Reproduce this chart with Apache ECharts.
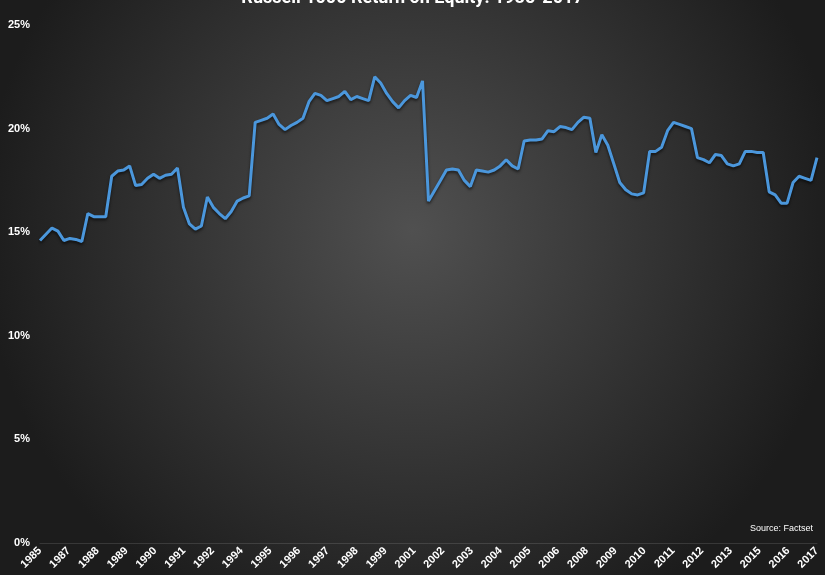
<!DOCTYPE html>
<html>
<head>
<meta charset="utf-8">
<script src="https://cdn.jsdelivr.net/npm/echarts@6/dist/echarts.min.js"></script>
<style>
html,body{margin:0;padding:0;background:#2a2a2a;}
#main{width:825px;height:575px;}
</style>
</head>
<body>
<div id="main"></div>
<script>
// tick labels under the x axis
var yearLabels = ['1985','1987','1988','1989','1990','1991','1992','1994','1995','1996','1997','1998','1999',
    '2001','2002','2003','2004','2005','2006','2008','2009','2010','2011','2012','2013','2015','2016','2017'];

// return on equity, %, quarterly
var roe = [
    14.6, 14.9, 15.2, 15.05, 14.6, 14.7, 14.65, 14.55, 15.9, 15.75,
    15.75, 15.75, 17.7, 17.95, 18.0, 18.2, 17.25, 17.3, 17.6, 17.8,
    17.6, 17.75, 17.8, 18.1, 16.2, 15.4, 15.15, 15.3, 16.7, 16.2,
    15.9, 15.65, 16.0, 16.5, 16.65, 16.75, 20.3, 20.4, 20.5, 20.7,
    20.2, 19.95, 20.15, 20.3, 20.5, 21.3, 21.7, 21.6, 21.35, 21.45,
    21.55, 21.8, 21.4, 21.55, 21.45, 21.35, 22.5, 22.2, 21.7, 21.3,
    21.0, 21.35, 21.6, 21.5, 22.3, 16.5, 17.0, 17.5, 18.0, 18.05,
    18.0, 17.5, 17.2, 18.0, 17.95, 17.9, 18.0, 18.2, 18.5, 18.2,
    18.05, 19.4, 19.45, 19.45, 19.5, 19.9, 19.85, 20.1, 20.05, 19.95,
    20.3, 20.55, 20.5, 18.85, 19.7, 19.2, 18.3, 17.4, 17.05, 16.85,
    16.8, 16.9, 18.9, 18.9, 19.1, 19.9, 20.3, 20.2, 20.1, 20.0,
    18.6, 18.5, 18.35, 18.75, 18.7, 18.3, 18.2, 18.3, 18.9, 18.9,
    18.85, 18.85, 16.95, 16.8, 16.4, 16.4, 17.4, 17.7, 17.6, 17.5,
    18.6
];

var cats = roe.map(function (v, i) { return String(i); });

var myChart = echarts.init(document.getElementById('main'));
myChart.setOption({
    backgroundColor: {
        type: 'radial', x: 0.5, y: 0.4, r: 0.75,
        colorStops: [{offset: 0, color: '#505050'}, {offset: 1, color: '#1c1c1c'}]
    },
    title: {
        text: 'Russell 1000 Return on Equity: 1985-2017',
        left: 'center', top: -16,
        textStyle: {color: '#ffffff', fontSize: 18, fontWeight: 'bold', fontFamily: 'Roboto'}
    },
    graphic: [{
        type: 'text', right: 12, top: 524,
        style: {text: 'Source: Factset', fill: '#ffffff', fontSize: 9, fontFamily: 'Liberation Sans'}
    }],
    grid: {left: 40, right: 8, top: 25, bottom: 32},
    xAxis: [{
        type: 'category',
        data: cats,
        boundaryGap: false,
        axisLine: {lineStyle: {color: 'rgba(255,255,255,0.12)'}},
        axisTick: {show: false},
        axisLabel: {show: false},
        splitLine: {show: false}
    }, {
        // label axis only
        type: 'category',
        position: 'bottom',
        data: yearLabels,
        boundaryGap: false,
        axisLine: {show: false},
        axisTick: {show: false},
        axisLabel: {
            interval: 0, rotate: 45, margin: 6,
            color: '#ffffff', fontWeight: 'bold', fontSize: 11, fontFamily: 'Liberation Sans'
        },
        splitLine: {show: false}
    }],
    yAxis: {
        type: 'value', min: 0, max: 25, interval: 5,
        axisLine: {show: false},
        axisTick: {show: false},
        axisLabel: {
            color: '#ffffff', fontWeight: 'bold', fontSize: 11, fontFamily: 'Liberation Sans',
            margin: 10, formatter: '{value}%'
        },
        splitLine: {show: false}
    },
    series: [{
        type: 'line',
        xAxisIndex: 0,
        data: roe,
        showSymbol: false,
        lineStyle: {color: '#4b97dc', width: 3, shadowColor: 'rgba(0,0,0,0.6)', shadowBlur: 3, shadowOffsetY: 2}
    }]
});
</script>
</body>
</html>
